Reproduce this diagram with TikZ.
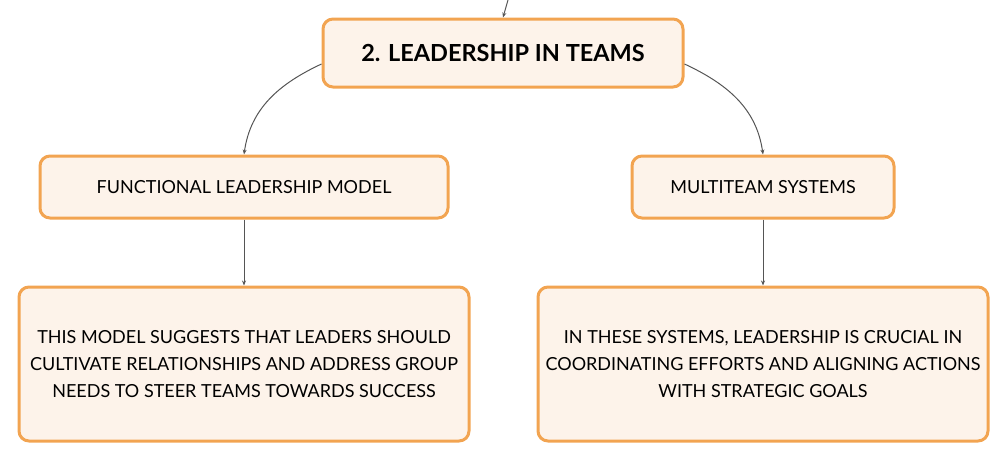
\documentclass[tikz,border=0pt]{standalone}
\usepackage{fontspec}
\setmainfont{Lato}
\usetikzlibrary{arrows.meta}
\definecolor{boxfill}{HTML}{FDF3EA}
\definecolor{boxdraw}{HTML}{F2A451}
\definecolor{linecol}{HTML}{555555}
\tikzset{
  box/.style={draw=boxdraw, fill=boxfill, line width=3pt, rounded corners=10pt, align=center, inner sep=0pt},
  conn/.style={draw=linecol, line width=1pt, -{Stealth[length=5pt,width=4pt]}},
  bodytext/.style={font=\fontsize{18}{27}\selectfont},
}
\begin{document}
\begin{tikzpicture}[x=1pt,y=-1pt]
\useasboundingbox (0,0) rectangle (1008,461);
\node[box, minimum width=360pt, minimum height=68pt, font=\fontsize{23.5}{26}\selectfont\bfseries] (top) at (503,53) {2. LEADERSHIP IN TEAMS};
\node[box, minimum width=408pt, minimum height=62pt, bodytext] (fl) at (244,187) {FUNCTIONAL LEADERSHIP MODEL};
\node[box, minimum width=262pt, minimum height=62pt, bodytext] (ms) at (763,187) {MULTITEAM SYSTEMS};
\node[box, minimum width=450pt, minimum height=154pt, bodytext] (fld) at (244,364) {THIS MODEL SUGGESTS THAT LEADERS SHOULD\\CULTIVATE RELATIONSHIPS AND ADDRESS GROUP\\NEEDS TO STEER TEAMS TOWARDS SUCCESS};
\node[box, minimum width=450pt, minimum height=154pt, bodytext] (msd) at (763,364) {IN THESE SYSTEMS, LEADERSHIP IS CRUCIAL IN\\COORDINATING EFFORTS AND ALIGNING ACTIONS\\WITH STRATEGIC GOALS};
\coordinate (in) at (508,0);
\draw[conn] (in) -- (top.north);
\draw[conn] ([yshift=-11pt]top.west) to[out=205, in=82] (fl.north);
\draw[conn] ([yshift=-11pt]top.east) to[out=-25, in=98] (ms.north);
\draw[conn] (fl.south) -- (fld.north);
\draw[conn] (ms.south) -- (msd.north);
\end{tikzpicture}
\end{document}
